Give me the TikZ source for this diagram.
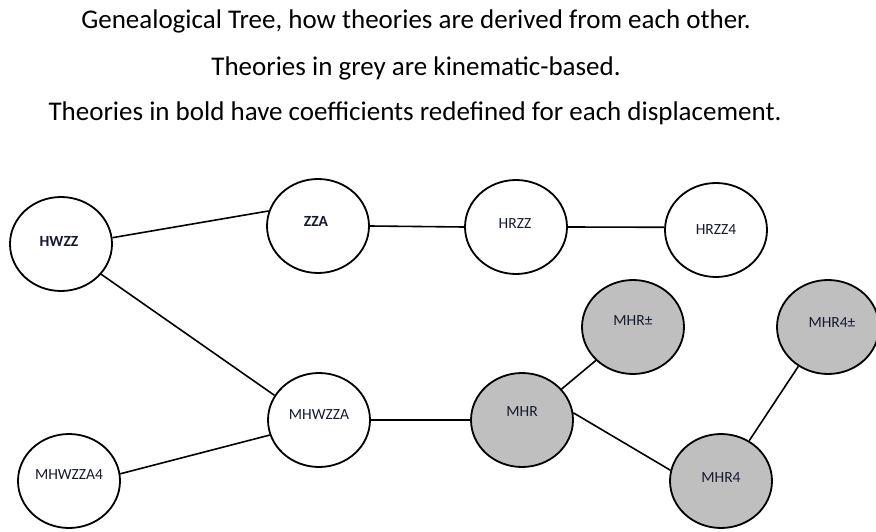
\documentclass[tikz,border=0pt]{standalone}
\usepackage{fontspec}
\setmainfont{Carlito}
\usetikzlibrary{shapes.geometric}
\definecolor{kinegrey}{RGB}{191,191,191}
\definecolor{labelink}{RGB}{22,26,48}
\tikzset{
  theory/.style={ellipse, draw=black, line width=1.8bp, fill=white,
    minimum width=102bp, minimum height=94bp, inner sep=0pt},
  kinematic/.style={theory, fill=kinegrey},
  tag/.style={font=\fontsize{15.5bp}{17bp}\selectfont, text=labelink, inner sep=0pt},
  boldtag/.style={tag, font=\fontsize{15.5bp}{17bp}\selectfont\bfseries},
  link/.style={draw=black, line width=1.6bp},
  heading/.style={font=\fontsize{27bp}{31bp}\selectfont, text=black, inner sep=0pt}
}
\begin{document}
\begin{tikzpicture}[x=1bp, y=-1bp]
  \useasboundingbox (0,0) rectangle (876,532);

  % headings
  \node[heading] (h1) at (416,21) {Genealogical Tree, how theories are derived from each other.};
  \node[heading] (h2) at (416,68) {Theories in grey are kinematic-based.};
  \node[heading] (h3) at (415,113) {Theories in bold have coefficients redefined for each displacement.};

  % theory nodes
  \node[theory] (hwzz) at (61,244) {};
  \node[theory] (zza) at (318,226) {};
  \node[theory] (hrzz) at (516,227) {};
  \node[theory] (hrzzf) at (716,230) {};
  \node[theory] (mhwzza) at (319,420) {};
  \node[theory] (mhwzzaf) at (69,481) {};
  \node[kinematic] (mhr) at (522,420) {};
  \node[kinematic] (mhrpm) at (633,327) {};
  \node[kinematic] (mhrf) at (721,481) {};
  \node[kinematic] (mhrfpm) at (828,327) {};

  % labels
  \node[boldtag] (t1) at (59,241) {HWZZ};
  \node[boldtag] (t2) at (316,221) {ZZA};
  \node[tag] (t3) at (515,224) {HRZZ};
  \node[tag] (t4) at (716,230) {HRZZ4};
  \node[tag] (t5) at (319,415) {MHWZZA};
  \node[tag] (t6) at (69,475) {MHWZZA4};
  \node[tag] (t7) at (522,412) {MHR};
  \node[tag] (t8) at (633,321) {MHR±};
  \node[tag] (t9) at (721,478) {MHR4};
  \node[tag] (t10) at (832,323) {MHR4±};

  % derivation links
  \draw[link] (hwzz.7) -- (zza.163);
  \draw[link] (hwzz.-37) -- (mhwzza.151);
  \draw[link] (zza.0) -- (hrzz.180);
  \draw[link] (hrzz.0) -- (hrzzf.177);
  \draw[link] (mhwzza.0) -- (mhr.180);
  \draw[link] (mhwzzaf.8) -- (mhwzza.197);
  \draw[link] (mhr.38) -- (mhrpm.222);
  \draw[link] (mhr.8) -- (mhrf.168);
  \draw[link] (mhrf.55) -- (mhrfpm.233);
\end{tikzpicture}
\end{document}
